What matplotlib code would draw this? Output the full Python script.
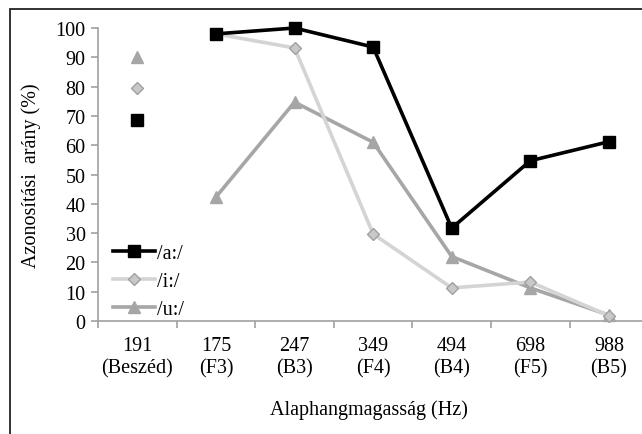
import numpy as np
import matplotlib.pyplot as plt
from matplotlib.patches import Rectangle

plt.rcParams['font.family'] = ['Liberation Serif', 'DejaVu Serif']

categories = ["191\n(Beszéd)", "175\n(F3)", "247\n(B3)", "349\n(F4)",
              "494\n(B4)", "698\n(F5)", "988\n(B5)"]

# first value = speech (Beszéd), drawn as a separate point
a_vals = [68.5, 98, 100, 93.5, 31.7, 54.7, 61.2]
i_vals = [79.5, 98, 93.2, 29.7, 11.3, 13.3, 1.8]
u_vals = [90, 42.3, 74.7, 61, 22, 11.3, 2]

x = np.arange(len(categories))

fig = plt.figure(figsize=(6.42, 4.35), dpi=100)
ax = fig.add_axes([0.1527, 0.2598, 0.857, 0.6735])

c_a = "black"
c_i = "#d4d4d4"
c_u = "#a6a6a6"
fs = 14.5

# sung notes, connected
ax.plot(x[1:], u_vals[1:], color=c_u, lw=2.6, marker="^", ms=9,
        mfc=c_u, mec=c_u, clip_on=False, label="/u:/", zorder=3)
ax.plot(x[1:], i_vals[1:], color=c_i, lw=2.6, marker="D", ms=6.5,
        mfc="#c8c8c8", mec="#a0a0a0", clip_on=False, label="/i:/", zorder=4)
ax.plot(x[1:], a_vals[1:], color=c_a, lw=2.6, marker="s", ms=8.5,
        mfc=c_a, mec=c_a, clip_on=False, label="/a:/", zorder=5)

# speech, single points
ax.plot(x[0], u_vals[0], ls="none", marker="^", ms=9, mfc=c_u, mec=c_u, clip_on=False)
ax.plot(x[0], i_vals[0], ls="none", marker="D", ms=6.5, mfc="#c8c8c8", mec="#a0a0a0", clip_on=False)
ax.plot(x[0], a_vals[0], ls="none", marker="s", ms=8.5, mfc=c_a, mec=c_a, clip_on=False)

ax.set_xlim(-0.5, len(categories) - 0.5)
ax.set_ylim(0, 100)
ax.set_yticks(np.arange(0, 101, 10))
ax.set_xticks(x)
ax.set_xticklabels(categories, fontsize=fs, linespacing=1.2)
ax.set_xticks(np.arange(-0.5, len(categories), 1), minor=True)
ax.tick_params(axis="x", which="major", length=0, pad=11)
ax.tick_params(axis="x", which="minor", length=5, color="#a0a0a0", width=1.2)
ax.tick_params(axis="y", length=5, color="#a0a0a0", width=1.2, labelsize=fs, pad=4)

for s in ["top", "right"]:
    ax.spines[s].set_visible(False)
for s in ["left", "bottom"]:
    ax.spines[s].set_color("#a0a0a0")
    ax.spines[s].set_linewidth(1.2)

ax.set_ylabel("Azonosítási  arány (%)", fontsize=fs)
ax.yaxis.set_label_coords(-0.104, 0.5)
ax.set_xlabel("Alaphangmagasság (Hz)", fontsize=fs)
ax.xaxis.set_label_coords(0.493, -0.268)

handles, labels = ax.get_legend_handles_labels()
ax.legend(handles[::-1], labels[::-1], loc="lower left", frameon=False,
          fontsize=fs, handlelength=2.1, handletextpad=0.1, labelspacing=0.45,
          borderaxespad=0.0, bbox_to_anchor=(0.012, -0.022))

# outer frame
fig.add_artist(Rectangle((10 / 642, -0.1), 1.2, 1 - 10 / 435 + 0.1,
                         transform=fig.transFigure, fill=False,
                         ec="#222222", lw=1.3))

fig.savefig("out.png", dpi=100)
